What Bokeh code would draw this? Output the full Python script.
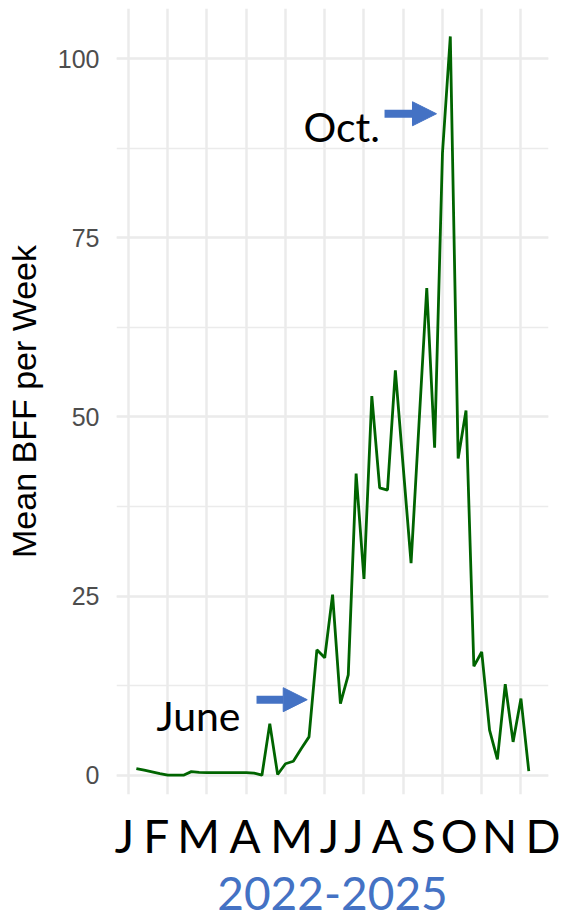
from bokeh.plotting import figure
from bokeh.models import (Range1d, SingleIntervalTicker, FixedTicker,
                          CustomJSTickFormatter, Arrow, NormalHead, ColumnDataSource)
from bokeh.core.properties import value
from bokeh.embed import file_html
from bokeh.resources import INLINE

# ---- data ----
weeks = list(range(1, 52))
mean_bff = [0.93, 0.70, 0.47, 0.23, 0.0, 0.0, 0.0, 0.5, 0.4, 0.35,
            0.35, 0.35, 0.35, 0.35, 0.35, 0.3, 0.0, 7.2, 0.1, 1.6,
            1.95, 3.7, 5.35, 17.5, 16.4, 25.2, 10.0, 14.0, 42.1, 27.4,
            52.9, 40.1, 39.8, 56.5, 43.0, 29.6, 48.8, 68.0, 45.7, 86.8,
            103.1, 44.2, 50.9, 15.2, 17.2, 6.3, 2.2, 12.7, 4.65, 10.7,
            0.56]
month_labels = ["J", "F", "M", "A", "M", "J", "J", "A", "S", "O", "N", "D"]
month_pos = [-0.51, 3.52, 8.92, 14.86, 20.77, 25.61, 28.74, 32.96,
             37.55, 42.12, 47.27, 53.4]
y_label = "Mean BFF per Week"
x_label = "2022-2025"

ann_text = ["Oct.", "June"]
ann_x = [32.04, 14.27]
ann_y = [90.54, 8.35]
arrow_x0 = [32.62, 16.31]
arrow_x1 = [39.24, 22.77]
arrow_y = [92.31, 10.54]

BLUE = "#4472C4"
GRID = "#EBEBEB"

p = figure(width=560, height=918,
           x_range=Range1d(-1.53, 53.51), y_range=Range1d(-2.69, 107.0),
           output_backend="svg", toolbar_location=None, tools="",
           min_border_left=116, min_border_right=12,
           min_border_top=8, min_border_bottom=124)
p.outline_line_color = None
p.background_fill_color = "white"
p.border_fill_color = "white"

# grids
p.xgrid.ticker = SingleIntervalTicker(interval=5, num_minor_ticks=0)
p.xgrid.grid_line_color = GRID
p.xgrid.grid_line_width = 2.5
p.ygrid.ticker = SingleIntervalTicker(interval=25, num_minor_ticks=2)
p.ygrid.grid_line_color = GRID
p.ygrid.grid_line_width = 2.5
p.ygrid.minor_grid_line_color = GRID
p.ygrid.minor_grid_line_width = 1.5

# x axis: month letters + year label
xa = p.xaxis[0]
xa.ticker = FixedTicker(ticks=month_pos)
xa.formatter = CustomJSTickFormatter(args=dict(labels=month_labels),
                                     code="return labels[index];")
xa.axis_line_color = None
xa.major_tick_out = 0
xa.major_tick_in = 0
xa.minor_tick_out = 0
xa.minor_tick_in = 0
xa.major_label_text_font = "Lato"
xa.major_label_text_font_size = "46px"
xa.major_label_text_color = "black"
xa.major_label_standoff = 13
xa.axis_label = x_label
xa.axis_label_text_font = "Lato"
xa.axis_label_text_font_size = "46px"
xa.axis_label_text_font_style = "normal"
xa.axis_label_text_color = BLUE
xa.axis_label_standoff = 11

# y axis
ya = p.yaxis[0]
ya.ticker = SingleIntervalTicker(interval=25)
ya.axis_line_color = None
ya.major_tick_out = 0
ya.major_tick_in = 0
ya.minor_tick_out = 0
ya.minor_tick_in = 0
ya.major_label_text_font = "Liberation Sans"
ya.major_label_text_font_size = "25px"
ya.major_label_text_color = "#4D4D4D"
ya.major_label_standoff = 17
ya.axis_label = y_label
ya.axis_label_text_font = "Liberation Sans"
ya.axis_label_text_font_size = "34px"
ya.axis_label_text_font_style = "normal"
ya.axis_label_text_color = "black"
ya.axis_label_standoff = 12

# data line
src = ColumnDataSource(dict(week=weeks, bff=mean_bff))
p.line("week", "bff", source=src, line_color="#006400", line_width=2.8)

# annotations
ann = ColumnDataSource(dict(x=ann_x, y=ann_y, t=ann_text))
p.text("x", "y", text="t", source=ann, text_font=value("Lato"),
       text_font_size="41px", text_align="right",
       text_baseline="alphabetic", text_color="black")
for x0, x1, yy in zip(arrow_x0, arrow_x1, arrow_y):
    p.add_layout(Arrow(end=NormalHead(size=24, fill_color=BLUE, line_color=BLUE,
                                      line_width=1),
                       x_start=x0, y_start=yy, x_end=x1, y_end=yy,
                       line_color=BLUE, line_width=8))

open("out.html", "w").write(file_html(p, INLINE))
